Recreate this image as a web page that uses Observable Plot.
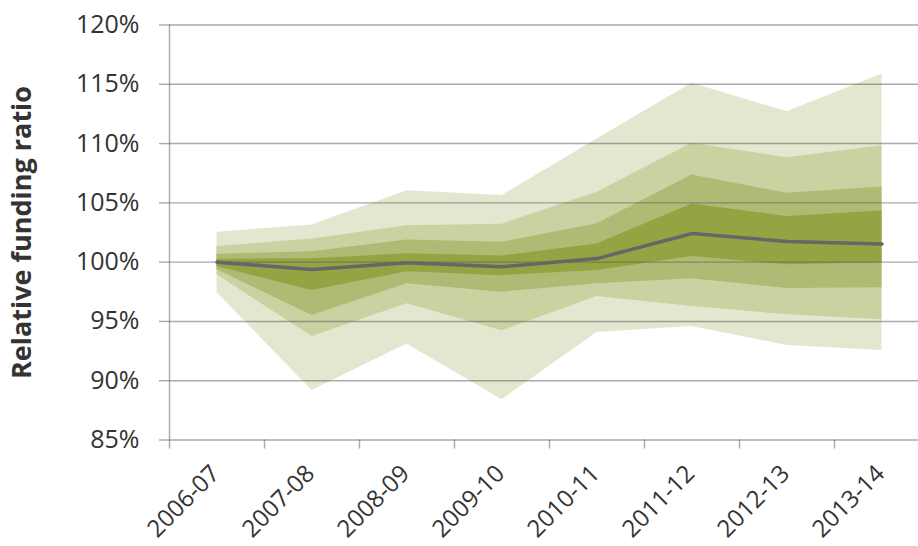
<!DOCTYPE html>
<html>
<head>
<meta charset="utf-8">
<script src="https://cdn.jsdelivr.net/npm/d3@7"></script>
<script src="https://cdn.jsdelivr.net/npm/@observablehq/plot@0.6"></script>
<style>
  html, body { margin: 0; padding: 0; background: #fff; overflow: hidden; }
  #chart svg { display: block; max-width: none; }
</style>
</head>
<body>
<div id="chart"></div>
<script>
// Categories
const years = ["2006-07", "2007-08", "2008-09", "2009-10", "2010-11", "2011-12", "2012-13", "2013-14"];
// Central (median) relative funding ratio, %
const median = [100.0, 99.38, 99.95, 99.62, 100.3, 102.41, 101.74, 101.54];
// Fan bands, outer to inner (low / high), %
const outerLow  = [97.44, 89.18, 93.09, 88.40, 94.07, 94.57, 92.98, 92.55];
const outerHigh = [102.53, 103.14, 106.03, 105.61, 110.38, 115.08, 112.69, 115.86];
const band2Low  = [98.93, 93.73, 96.49, 94.21, 97.10, 96.26, 95.56, 95.14];
const band2High = [101.31, 101.96, 103.06, 103.20, 105.90, 110.03, 108.81, 109.82];
const band3Low  = [99.35, 95.50, 98.17, 97.47, 98.17, 98.59, 97.78, 97.83];
const band3High = [100.67, 100.87, 101.87, 101.67, 103.23, 107.35, 105.81, 106.34];
const band4Low  = [99.63, 97.60, 99.19, 98.86, 99.30, 100.47, 99.77, 99.94];
const band4High = [100.25, 100.29, 100.70, 100.52, 101.52, 104.91, 103.84, 104.32];
// Y ticks
const yTicks = [85, 90, 95, 100, 105, 110, 115, 120];

const data = years.map((year, i) => ({
  pos: i + 0.5, year,
  median: median[i],
  l1: outerLow[i], h1: outerHigh[i],
  l2: band2Low[i], h2: band2High[i],
  l3: band3Low[i], h3: band3High[i],
  l4: band4Low[i], h4: band4High[i]
}));

const bandColors = ["#e3e7d0", "#cad2a2", "#b0ba75", "#94a443"];
const gridStroke = "#555";
const gridOpacity = 0.5;
const textColor = "#333";

const chart = Plot.plot({
  width: 918,
  height: 546,
  marginLeft: 169,
  marginRight: -11,
  marginTop: 24.5,
  marginBottom: 106.5,
  style: { fontFamily: "'Open Sans', sans-serif", overflow: "hidden", background: "#fff" },
  x: { domain: [0, 8], axis: null },
  y: { domain: [85, 120], axis: null },
  marks: [
    Plot.areaY(data, { x: "pos", y1: "l1", y2: "h1", fill: bandColors[0] }),
    Plot.areaY(data, { x: "pos", y1: "l2", y2: "h2", fill: bandColors[1] }),
    Plot.areaY(data, { x: "pos", y1: "l3", y2: "h3", fill: bandColors[2] }),
    Plot.areaY(data, { x: "pos", y1: "l4", y2: "h4", fill: bandColors[3] }),
    Plot.ruleY(yTicks, { stroke: gridStroke, strokeOpacity: gridOpacity, strokeWidth: 1.4 }),
    Plot.ruleX([0], { stroke: gridStroke, strokeOpacity: gridOpacity, strokeWidth: 1.4 }),
    Plot.axisY({
      ticks: yTicks, tickFormat: d => d + "%", tickSize: 10, tickPadding: 20,
      stroke: gridStroke, strokeOpacity: gridOpacity, strokeWidth: 1.4,
      fill: textColor, fontSize: 25, label: null
    }),
    Plot.axisX({
      ticks: d3.range(0, 9), tickFormat: () => "", tickSize: 9, tickPadding: 0,
      stroke: gridStroke, strokeOpacity: gridOpacity, strokeWidth: 1.4, label: null
    }),
    Plot.text(data, {
      x: "pos", text: "year", frameAnchor: "bottom", dx: 4, dy: 35,
      rotate: -45, textAnchor: "end", lineAnchor: "bottom",
      fontSize: 24, fill: textColor
    }),
    Plot.lineY(data, { x: "pos", y: "median", stroke: "#666", strokeWidth: 3.5 }),
    Plot.text(["Relative funding ratio"], {
      frameAnchor: "left", dx: -147, rotate: -90, textAnchor: "middle",
      lineAnchor: "middle", fontSize: 27, fontWeight: "bold", fill: textColor
    })
  ]
});

document.getElementById("chart").appendChild(chart);
</script>
</body>
</html>
